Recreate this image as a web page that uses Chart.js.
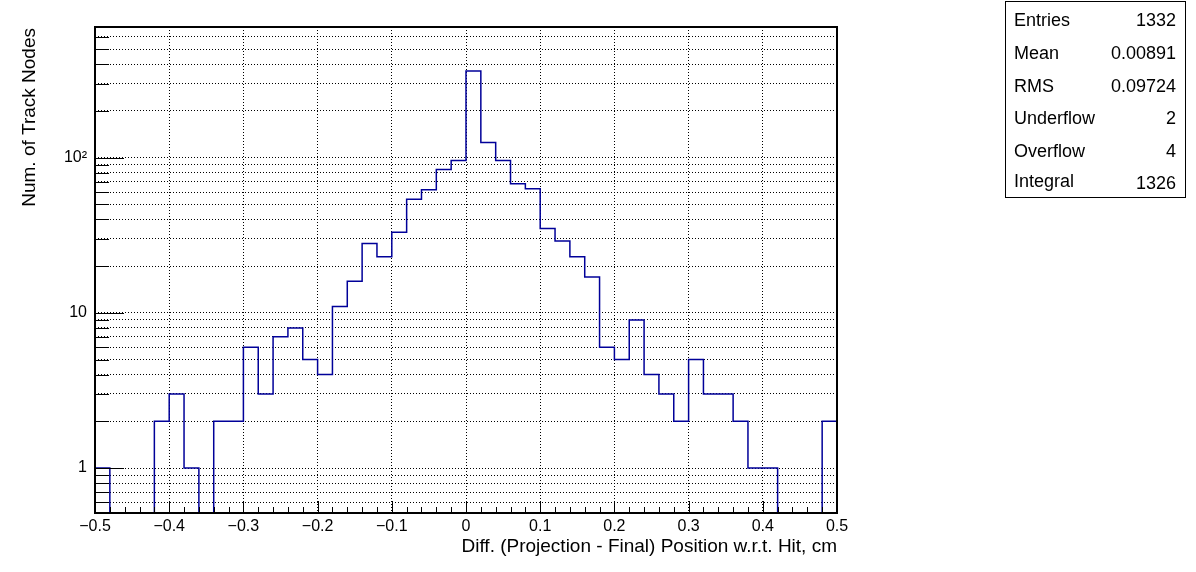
<!DOCTYPE html>
<html><head><meta charset="utf-8">
<script src="https://cdn.jsdelivr.net/npm/chart.js@4/dist/chart.umd.min.js"></script>
<style>html,body{margin:0;padding:0;background:#fff}#wrap{width:1196px;height:572px;position:relative}</style>
</head><body><div id="wrap"><canvas id="c" width="1196" height="572"></canvas></div>
<script>
// Bin low edges (cm)
const binLowEdges = [-0.50,-0.48,-0.46,-0.44,-0.42,-0.40,-0.38,-0.36,-0.34,-0.32,
  -0.30,-0.28,-0.26,-0.24,-0.22,-0.20,-0.18,-0.16,-0.14,-0.12,
  -0.10,-0.08,-0.06,-0.04,-0.02,0.00,0.02,0.04,0.06,0.08,
  0.10,0.12,0.14,0.16,0.18,0.20,0.22,0.24,0.26,0.28,
  0.30,0.32,0.34,0.36,0.38,0.40,0.42,0.44,0.46,0.48];
const binUpEdge = 0.5;
// Counts per bin
const counts = [1,0,0,0,2,3,1,0,2,2,
  6,3,7,8,5,4,11,16,28,23,
  33,54,62,84,96,362,125,96,68,63,
  35,29,23,17,6,5,9,4,3,2,
  5,3,3,2,1,1,0,0,0,2];
// Axis ticks
const xTickValues = [-0.5,-0.4,-0.3,-0.2,-0.1,0,0.1,0.2,0.3,0.4,0.5];
const xTickLabels = ['\u22120.5','\u22120.4','\u22120.3','\u22120.2','\u22120.1','0','0.1','0.2','0.3','0.4','0.5'];
const yTickValues = [1,10,100];
const yTickLabels = ['1','10','10\u00B2'];
const yRange = [0.513, 695];
// Titles and stats
const xTitle = 'Diff. (Projection - Final) Position w.r.t. Hit, cm';
const yTitle = 'Num. of Track Nodes';
const statsLabels = ['Entries','Mean','RMS','Underflow','Overflow','Integral'];
const statsValues = ['1332','0.00891','0.09724','2','4','1326'];

const FONT = '"Liberation Sans", Arial, sans-serif';

const pts = binLowEdges.map((x,i)=>({x, y: counts[i] > 0 ? counts[i] : yRange[0]}));
pts.push({x: binUpEdge, y: counts[counts.length-1] > 0 ? counts[counts.length-1] : yRange[0]});

const rootPlugin = {
  id: 'rootDecor',
  afterDatasetsDraw(chart) {
    const {ctx, chartArea: a, scales: {x, y}} = chart;
    ctx.save();
    ctx.strokeStyle = '#000';
    ctx.lineWidth = 1;
    ctx.beginPath();
    // y ticks (inside)
    y.ticks.forEach(t => {
      if (t.value <= yRange[0] || t.value >= yRange[1]) return;
      const py = Math.round(y.getPixelForValue(t.value)) + 0.5;
      const major = yTickValues.some(v => Math.abs(v - t.value) < 1e-9);
      const len = major ? 29 : 14;
      ctx.moveTo(a.left, py); ctx.lineTo(a.left + len, py);
    });
    // x ticks (inside)
    binLowEdges.concat([binUpEdge]).forEach(v => {
      const px = Math.round(x.getPixelForValue(v)) + 0.5;
      const major = xTickValues.some(m => Math.abs(m - v) < 1e-9);
      const len = major ? 12 : 6;
      ctx.moveTo(px, a.bottom); ctx.lineTo(px, a.bottom - len);
    });
    ctx.stroke();
    // frame
    ctx.lineWidth = 2;
    ctx.strokeRect(a.left, a.top, a.right - a.left, a.bottom - a.top);
    // axis titles
    ctx.fillStyle = '#000';
    ctx.font = '19px ' + FONT;
    ctx.textAlign = 'right';
    ctx.textBaseline = 'middle';
    ctx.fillText(xTitle, a.right, 547);
    ctx.save();
    ctx.translate(30, a.top + 1);
    ctx.rotate(-Math.PI / 2);
    ctx.fillText(yTitle, 0, 0);
    ctx.restore();
    // stats box
    ctx.lineWidth = 1;
    ctx.strokeRect(1005.5, 1.5, 180, 196);
    ctx.font = '18px ' + FONT;
    const rows = [21, 54, 87, 119, 152, 182];
    statsLabels.forEach((s, i) => {
      ctx.textAlign = 'left';
      ctx.fillText(s, 1014, rows[i]);
      ctx.textAlign = 'right';
      ctx.fillText(statsValues[i], 1176, rows[i] + (i === 5 ? 2 : 0));
    });
    ctx.restore();
  }
};

new Chart(document.getElementById('c'), {
  type: 'line',
  data: { datasets: [{
    data: pts,
    borderColor: '#000099',
    borderWidth: 1.5,
    pointRadius: 0,
    stepped: 'before',
    fill: false
  }]},
  options: {
    responsive: false,
    animation: false,
    devicePixelRatio: 1,
    layout: { padding: { left: 0, top: 27, right: 359, bottom: 0 } },
    plugins: { legend: { display: false }, tooltip: { enabled: false }, title: { display: false } },
    scales: {
      x: {
        type: 'linear', min: -0.5, max: 0.5,
        afterBuildTicks: s => { s.ticks = xTickValues.map(v => ({value: v})); },
        afterFit: s => { s.height = 59; },
        ticks: { autoSkip: false, maxRotation: 0, padding: 4, color: '#000',
          font: { family: FONT, size: 16 },
          callback: (v, i) => xTickLabels[i] },
        grid: { color: '#000', lineWidth: 1, drawTicks: false },
        border: { display: false, dash: [1, 2] }
      },
      y: {
        type: 'logarithmic', min: yRange[0], max: yRange[1],
        afterBuildTicks: s => {
          const t = [];
          [0.1, 1, 10, 100].forEach(d => { for (let k = 1; k <= 9; k++) { const v = +(d * k).toPrecision(6); if (v > yRange[0] && v < yRange[1]) t.push({value: v}); } });
          s.ticks = t;
        },
        afterFit: s => { s.width = 95; },
        ticks: { autoSkip: false, padding: 8, color: '#000',
          font: { family: FONT, size: 16 },
          callback: v => { const i = yTickValues.findIndex(m => Math.abs(m - v) < 1e-9); return i >= 0 ? yTickLabels[i] : ''; } },
        grid: { color: '#000', lineWidth: 1, drawTicks: false },
        border: { display: false, dash: [1, 2] }
      }
    }
  },
  plugins: [rootPlugin]
});
</script>
</body></html>
